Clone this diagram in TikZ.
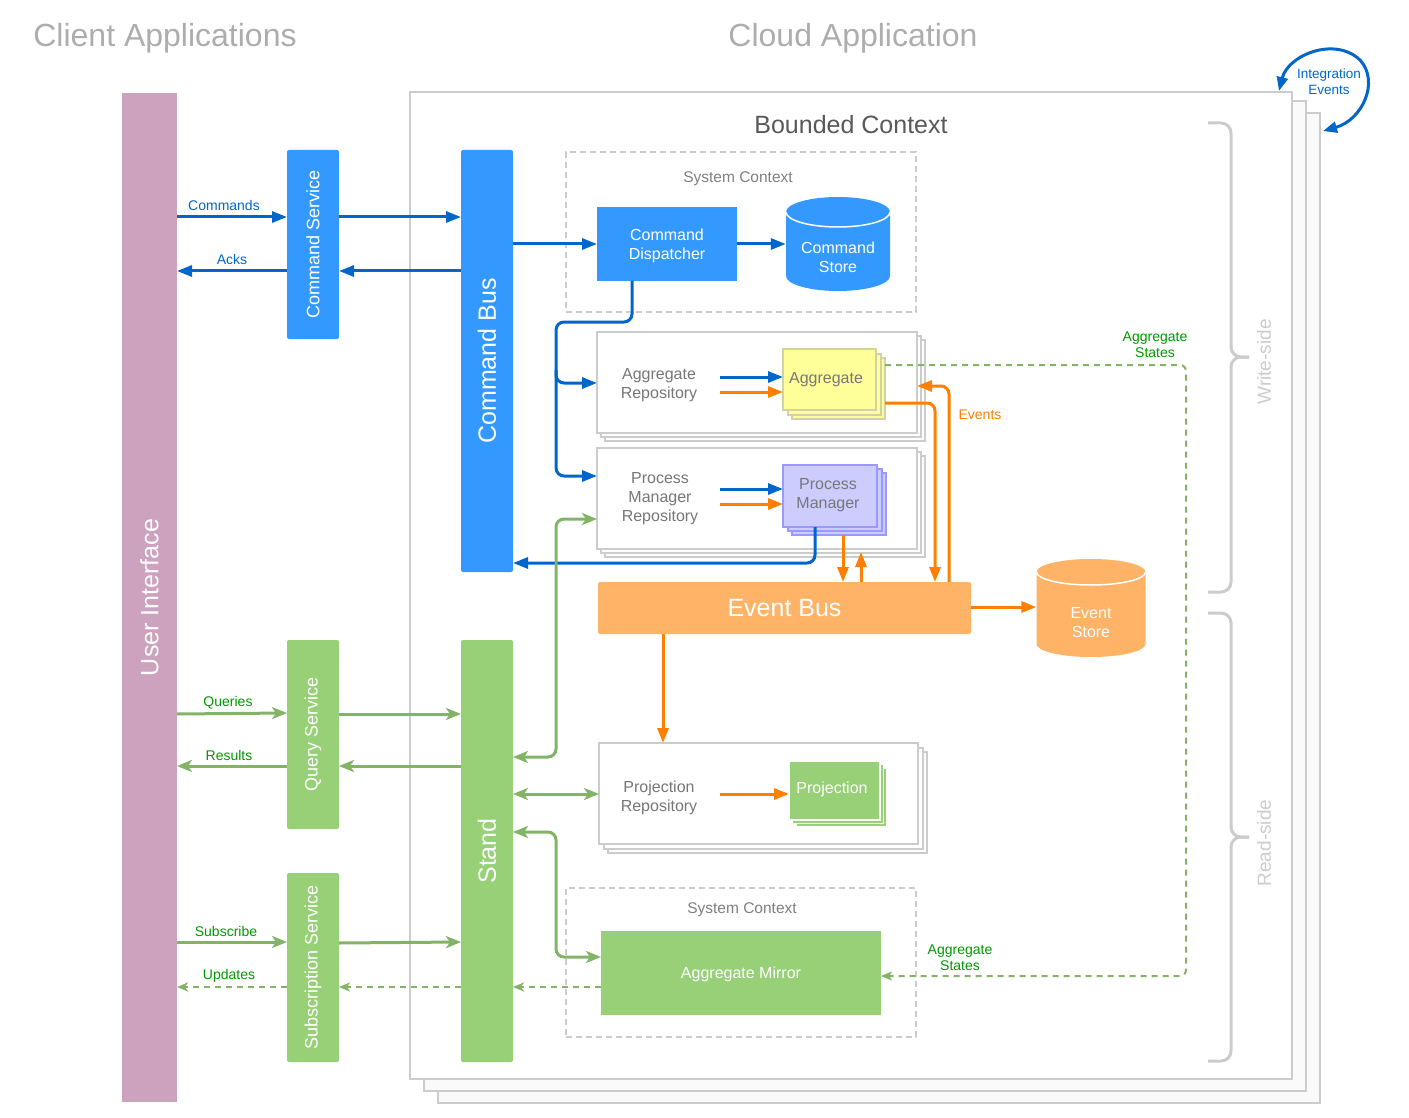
\documentclass[tikz,border=0pt]{standalone}
\usepackage{fontspec}
\setmainfont{Liberation Sans}
\usetikzlibrary{arrows.meta}
\definecolor{uic}{HTML}{CDA2BE}
\definecolor{bfill}{HTML}{3399FF}
\definecolor{blinec}{HTML}{0066CC}
\definecolor{gfill}{HTML}{97D077}
\definecolor{glinec}{HTML}{82B366}
\definecolor{gtext}{HTML}{009900}
\definecolor{ofill}{HTML}{FFB366}
\definecolor{olinec}{HTML}{FF8000}
\definecolor{bord}{HTML}{CCCCCC}
\definecolor{ttlc}{HTML}{ADADAD}
\definecolor{txtg}{HTML}{777777}
\definecolor{yfill}{HTML}{FFFF99}
\definecolor{yline}{HTML}{D2D2A6}
\definecolor{pfill}{HTML}{CCCCFF}
\definecolor{pline}{HTML}{9999FF}
\newcommand\fsz[2]{\fontsize{#1}{#2}\selectfont}
\tikzset{
  box/.style={anchor=north west, inner sep=0pt, outer sep=0pt},
  ttl/.style={text=ttlc, font=\fsz{32}{36}},
  rotw/.style={rotate=90, text=white},
  lab/.style={text=txtg, align=center, font=\fsz{16}{19}, yshift=-2pt},
  wlab/.style={text=white, align=center, font=\fsz{16}{19}, yshift=-1.5pt},
  blab/.style={text=blinec, align=center, font=\fsz{14}{16}},
  glab/.style={text=gtext, align=center, font=\fsz{14}{16}, yshift=-1.5pt},
  barr/.style={draw=blinec, line width=3pt, -{Triangle[length=15pt,width=11pt]}},
  oarr/.style={draw=olinec, line width=3pt, -{Triangle[length=15pt,width=11pt]}},
  garr/.style={draw=glinec, line width=3pt, -{Stealth[length=15pt,width=12pt,inset=4pt]}},
  gboth/.style={draw=glinec, line width=3pt, {Stealth[length=15pt,width=12pt,inset=4pt]}-{Stealth[length=15pt,width=12pt,inset=4pt]}},
  gdash/.style={draw=glinec, line width=2pt, dash pattern=on 6pt off 5pt, -{Stealth[length=11pt,width=9pt,inset=3pt]}},
  sysctx/.style={draw=bord, line width=1.5pt, dash pattern=on 6pt off 4pt},
  repo/.style={draw=bord, line width=2pt, fill=white},
  brc/.style={draw=bord, line width=3pt, rounded corners=10pt},
}
\begin{document}
\begin{tikzpicture}[x=1pt,y=-1pt]
\useasboundingbox (0,0) rectangle (1409,1118);

% titles
\node[ttl] (tclient) at (165,38) {Client Applications};
\node[ttl] (tcloud) at (853,38) {Cloud Application};

% bounded context stack
\draw[draw=bord, line width=2pt, fill=black!2] (438,113) rectangle (1320,1103);
\draw[draw=bord, line width=2pt, fill=black!2] (424,101) rectangle (1306,1091);
\node[box, draw=bord, line width=2pt, fill=white, minimum width=882, minimum height=987] (bctx) at (410,92) {};
\node[text=black!65, font=\fsz{25}{30}] (bctxlab) at (851,125) {Bounded Context};

% braces
\draw[brc] (1208,123) -- (1231,123) -- (1231,357) -- (1249,357);
\draw[brc] (1249,357) -- (1231,357) -- (1231,592) -- (1208,592);
\draw[brc] (1208,613) -- (1231,613) -- (1231,837) -- (1249,837);
\draw[brc] (1249,837) -- (1231,837) -- (1231,1061) -- (1208,1061);
\node[rotate=90, text=bord, font=\fsz{19}{22}] (wside) at (1264,362) {Write-side};
\node[rotate=90, text=bord, font=\fsz{19}{22}] (rside) at (1264,843) {Read-side};

% integration events
\coordinate (ie1) at (1279,91);
\coordinate (ie2) at (1323,131);
\draw[draw=blinec, line width=3pt, {Triangle[length=14pt,width=11pt]}-{Triangle[length=14pt,width=11pt]}]
  (ie1) .. controls (1288,55) and (1335,36) .. (1360,60) .. controls (1380,82) and (1362,120) .. (ie2);
\node[blab, font=\fsz{13.5}{16}] (ielab) at (1329,82) {Integration\\Events};

% left bars
\node[box, fill=uic, minimum width=55, minimum height=1009] (ui) at (122,93) {};
\node[rotw, font=\fsz{25}{30}] at (ui) {User Interface};
\node[box, fill=bfill, rounded corners=2pt, minimum width=52, minimum height=189] (cs) at (287,150) {};
\node[rotw, font=\fsz{18}{22}] at (cs) {Command Service};
\node[box, fill=bfill, rounded corners=2pt, minimum width=52, minimum height=422] (cbus) at (461,150) {};
\node[rotw, font=\fsz{25}{30}] at (cbus) {Command Bus};
\node[box, fill=gfill, rounded corners=2pt, minimum width=52, minimum height=189] (qs) at (287,640) {};
\node[rotw, font=\fsz{18}{22}] at (qs) {Query Service};
\node[box, fill=gfill, rounded corners=2pt, minimum width=52, minimum height=189] (ss) at (287,873) {};
\node[rotw, font=\fsz{18}{22}] at (ss) {Subscription Service};
\node[box, fill=gfill, rounded corners=2pt, minimum width=52, minimum height=422] (stand) at (461,640) {};
\node[rotw, font=\fsz{25}{30}] at (stand) {Stand};

% system context (top)
\node[box, sysctx, minimum width=350, minimum height=160] (sc1) at (566,152) {};
\node[text=black!50, font=\fsz{15.5}{18}] (sc1lab) at (738,179) {System Context};
\node[box, fill=bfill, minimum width=140, minimum height=74] (cd) at (597,207) {};
\node[wlab] at (cd) {Command\\Dispatcher};
% command store cylinder
\path[fill=bfill] (786,212) -- (786,276) arc[start angle=180, end angle=0, x radius=52, y radius=15]
  -- (890,212) arc[start angle=0, end angle=-180, x radius=52, y radius=15] -- cycle;
\draw[white, line width=1.5pt] (786,212) arc[start angle=180, end angle=0, x radius=52, y radius=15];
\node[inner sep=0pt, minimum width=104, minimum height=94] (cstore) at (838,244) {};
\node[wlab] at (838,256) {Command\\Store};

% aggregate repository stack
\draw[repo] (605,340) rectangle (925,441);
\draw[repo] (601,336) rectangle (921,437);
\node[box, repo, minimum width=320, minimum height=101] (arepo) at (597,332) {};
\node[lab] at (659,383) {Aggregate\\Repository};
\draw[draw=yline, line width=1.5pt, fill=yfill] (792,358) rectangle (885,419);
\draw[draw=yline, line width=1.5pt, fill=yfill] (788,354) rectangle (881,415);
\node[box, draw=yline, line width=1.5pt, fill=yfill, minimum width=93, minimum height=61] (agg) at (783,349) {};
\node[lab] at (826,378) {Aggregate};

% process manager repository stack
\draw[repo] (605,456) rectangle (925,557);
\draw[repo] (601,452) rectangle (921,553);
\node[box, repo, minimum width=320, minimum height=101] (pmrepo) at (597,448) {};
\node[lab] at (660,497) {Process\\Manager\\Repository};
\draw[draw=pline, line width=1.5pt, fill=pfill] (792,473) rectangle (886,535);
\draw[draw=pline, line width=1.5pt, fill=pfill] (788,469) rectangle (882,531);
\node[box, draw=pline, line width=1.5pt, fill=pfill, minimum width=94, minimum height=62] (pm) at (783,465) {};
\node[lab] at (828,493) {Process\\Manager};

% event bus and store
\node[box, fill=ofill, rounded corners=2pt, minimum width=373, minimum height=52] (eb) at (598,582) {};
\node[text=white, font=\fsz{25}{30}] at (eb) {Event Bus};
\path[fill=ofill] (1036.5,572) -- (1036.5,644) arc[start angle=180, end angle=0, x radius=54.5, y radius=13]
  -- (1145.5,572) arc[start angle=0, end angle=-180, x radius=54.5, y radius=13] -- cycle;
\draw[white, line width=1.5pt] (1036.5,572) arc[start angle=180, end angle=0, x radius=54.5, y radius=13];
\node[inner sep=0pt, minimum width=109, minimum height=98] (estore) at (1091,608) {};
\node[wlab] at (1091,621) {Event\\Store};

% projection repository stack
\draw[repo] (608,752) rectangle (927,853);
\draw[repo] (603.5,747.5) rectangle (922.5,848.5);
\node[box, repo, minimum width=319, minimum height=101] (prepo) at (599,743) {};
\node[lab] at (659,796) {Projection\\Repository};
\draw[draw=white, line width=1.5pt, fill=gfill] (796,768) rectangle (887,827);
\draw[draw=white, line width=1.5pt, fill=gfill] (792.5,764.5) rectangle (883.5,823.5);
\node[box, draw=white, line width=1.5pt, fill=gfill, minimum width=91, minimum height=59] (proj) at (789,761) {};
\node[wlab] at (832,788) {Projection};

% system context (bottom)
\node[box, sysctx, minimum width=350, minimum height=149] (sc2) at (566,888) {};
\node[text=black!50, font=\fsz{15.5}{18}] (sc2lab) at (742,910) {System Context};
\node[box, fill=gfill, minimum width=280, minimum height=84] (amirror) at (601,931) {};
\node[wlab] at (amirror) {Aggregate Mirror};

% ---- blue connectors
\draw[barr] (ui.east |- 0,217) -- (cs.west |- 0,217);
\node[blab] (lcmd) at (224,205) {Commands};
\draw[barr] (cs.east |- 0,217) -- (cbus.west |- 0,217);
\draw[barr] (cbus.west |- 0,271) -- (cs.east |- 0,271);
\draw[barr] (cs.west |- 0,271) -- (ui.east |- 0,271);
\node[blab] (lacks) at (232,259) {Acks};
\draw[barr] (cbus.east |- cd.west) -- (cd.west);
\draw[barr] (cd.east) -- (cstore.west |- cd.east);
\draw[barr, rounded corners=8pt] (632,0 |- cd.south) -- (632,322) -- (556,322) -- (556,383) -- (arepo.west |- 0,383);
\draw[barr, rounded corners=8pt] (556,370) -- (556,476) -- (pmrepo.west |- 0,476);
\draw[barr] (720,377) -- (agg.west |- 0,377);
\draw[barr] (720,489) -- (pm.west |- 0,489);
\draw[barr, rounded corners=8pt] (815,0 |- pm.south) -- (815,563) -- (cbus.east |- 0,563);

% ---- orange connectors
\draw[oarr] (720,392) -- (agg.west |- 0,392);
\draw[oarr] (720,504) -- (pm.west |- 0,504);
\draw[oarr] (843,535) -- (843,0 |- eb.north);
\draw[oarr] (861,0 |- eb.north) -- (861,552);
\draw[oarr, rounded corners=8pt] (885,403) -- (935,403) -- (935,0 |- eb.north);
\draw[oarr, rounded corners=8pt] (949,0 |- eb.north) -- (949,386) -- (arepo.east |- 0,386);
\node[text=olinec, font=\fsz{14}{16}] (levents) at (980,415) {Events};
\draw[oarr] (eb.east |- 0,607) -- (estore.west |- 0,607);
\draw[oarr] (663,0 |- eb.south) -- (663,0 |- prepo.north);
\draw[oarr] (720,794) -- (proj.west |- 0,794);

% ---- green connectors
\draw[garr] (ui.east |- 0,714) -- (qs.west |- 0,713);
\node[glab] (lq) at (228,701) {Queries};
\draw[garr] (qs.east |- 0,714) -- (stand.west |- 0,714);
\draw[garr] (stand.west |- 0,766) -- (qs.east |- 0,766);
\draw[garr] (qs.west |- 0,766) -- (ui.east |- 0,766);
\node[glab] (lr) at (229,754) {Results};
\draw[garr] (ui.east |- 0,942) -- (ss.west |- 0,942);
\node[glab] (ls) at (226,930) {Subscribe};
\draw[garr] (ss.east |- 0,943) -- (stand.west |- 0,942);
\draw[gboth, rounded corners=8pt] (stand.east |- 0,757) -- (556,757) -- (556,519) -- (pmrepo.west |- 0,519);
\draw[gboth] (stand.east |- 0,794) -- (prepo.west |- 0,794);
\draw[gboth, rounded corners=8pt] (stand.east |- 0,832) -- (556,832) -- (556,957) -- (amirror.west |- 0,957);

% dashed green
\draw[gdash, rounded corners=6pt] (885,365) -- (1186,365) -- (1186,976) -- (amirror.east |- 0,976);
\node[glab] (las1) at (1155,343) {Aggregate\\States};
\node[glab] (las2) at (960,956) {Aggregate\\States};
\draw[gdash] (amirror.west |- 0,987) -- (stand.east |- 0,987);
\draw[gdash] (stand.west |- 0,987) -- (ss.east |- 0,987);
\draw[gdash] (ss.west |- 0,987) -- (ui.east |- 0,987);
\node[glab] (lu) at (229,974) {Updates};
\end{tikzpicture}
\end{document}
